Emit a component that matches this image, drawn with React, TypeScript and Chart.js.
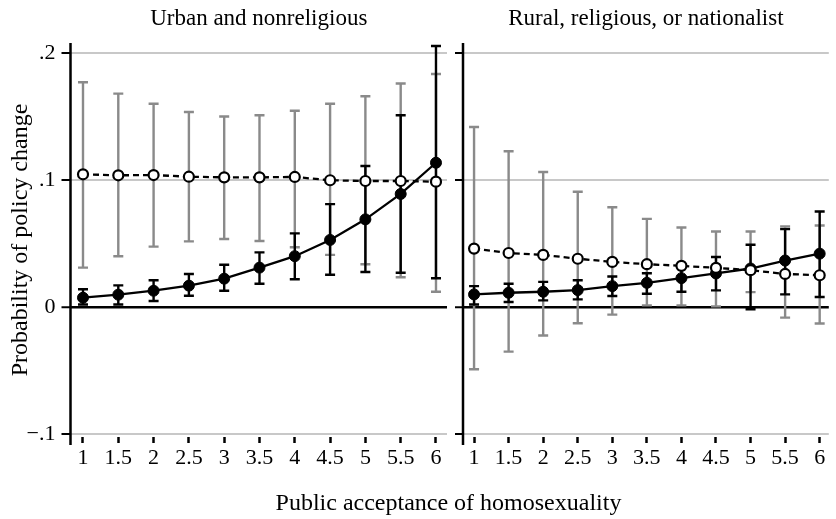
import React, { useEffect, useRef } from "react";
import { Chart, registerables } from "chart.js";

Chart.register(...registerables);

// ---------- data ----------
const xValues = [1, 1.5, 2, 2.5, 3, 3.5, 4, 4.5, 5, 5.5, 6];
const xTickLabels = ["1", "1.5", "2", "2.5", "3", "3.5", "4", "4.5", "5", "5.5", "6"];
const yTickValues = [-0.1, 0, 0.1, 0.2];
const yTickLabels = ["\u2212.1", "0", ".1", ".2"];

const panelTitles = ["Urban and nonreligious", "Rural, religious, or nationalist"];
const yAxisTitle = "Probability of policy change";
const xAxisTitle = "Public acceptance of homosexuality";

// Urban and nonreligious
const urbanOpen = [0.1045, 0.1037, 0.1039, 0.1026, 0.1021, 0.1021, 0.1024, 0.0998, 0.0992, 0.0992, 0.0987];
const urbanOpenLo = [0.031, 0.040, 0.0475, 0.0517, 0.0535, 0.052, 0.047, 0.041, 0.0336, 0.0234, 0.012];
const urbanOpenHi = [0.177, 0.168, 0.160, 0.1535, 0.150, 0.151, 0.1546, 0.160, 0.166, 0.176, 0.1835];
const urbanSolid = [0.0073, 0.0097, 0.0128, 0.0168, 0.0223, 0.031, 0.040, 0.0528, 0.069, 0.089, 0.1136];
const urbanSolidLo = [0.002, 0.002, 0.0047, 0.0089, 0.0128, 0.0183, 0.0218, 0.0254, 0.0276, 0.027, 0.0226];
const urbanSolidHi = [0.014, 0.017, 0.021, 0.026, 0.0333, 0.043, 0.058, 0.081, 0.111, 0.151, 0.2055];

// Rural, religious, or nationalist
const ruralOpen = [0.046, 0.0425, 0.041, 0.038, 0.0355, 0.0337, 0.0324, 0.0308, 0.029, 0.026, 0.025];
const ruralOpenLo = [-0.049, -0.0352, -0.0225, -0.0128, -0.006, 0.0013, 0.0013, 0.0005, 0.0117, -0.0084, -0.013];
const ruralOpenHi = [0.1417, 0.1227, 0.1063, 0.0908, 0.0786, 0.0694, 0.0626, 0.0595, 0.0595, 0.0634, 0.0642];
const ruralSolid = [0.0099, 0.0112, 0.012, 0.0133, 0.0164, 0.019, 0.0227, 0.0264, 0.0303, 0.0366, 0.042];
const ruralSolidLo = [0.002, 0.0039, 0.0052, 0.006, 0.0086, 0.0104, 0.012, 0.0131, -0.0018, 0.0099, 0.0078];
const ruralSolidHi = [0.0164, 0.0183, 0.0198, 0.0211, 0.024, 0.0266, 0.0316, 0.0394, 0.049, 0.0613, 0.0752];

// ---------- styling ----------
const FONT = "'Liberation Serif', 'Times New Roman', serif";
const W = 836;
const H = 519;

const errorBarPlugin = {
  id: "errorBars",
  beforeDatasetsDraw(chart: any) {
    const { ctx, chartArea } = chart;
    const xs = chart.scales.x;
    const ys = chart.scales.y;
    // axis line (extends a little below the plot region)
    ctx.save();
    ctx.strokeStyle = "#000";
    ctx.lineWidth = 2.5;
    ctx.beginPath();
    ctx.moveTo(chartArea.left, chartArea.top);
    ctx.lineTo(chartArea.left, chartArea.bottom + 8);
    ctx.stroke();
    ctx.restore();

    chart.data.datasets.forEach((ds: any) => {
      ctx.save();
      ctx.strokeStyle = ds.errColor;
      ctx.lineWidth = 2.4;
      ds.data.forEach((p: any, i: number) => {
        const x = xs.getPixelForValue(p.x);
        const yl = ys.getPixelForValue(ds.errLo[i]);
        const yh = ys.getPixelForValue(ds.errHi[i]);
        ctx.beginPath();
        ctx.moveTo(x, yl);
        ctx.lineTo(x, yh);
        ctx.moveTo(x - 5, yl);
        ctx.lineTo(x + 5, yl);
        ctx.moveTo(x - 5, yh);
        ctx.lineTo(x + 5, yh);
        ctx.stroke();
      });
      ctx.restore();
    });
  },
};

function makeConfig(
  title: string,
  open: number[], openLo: number[], openHi: number[],
  solid: number[], solidLo: number[], solidHi: number[],
  isLeft: boolean
): any {
  return {
    type: "line",
    data: {
      datasets: [
        {
          data: xValues.map((x, i) => ({ x, y: open[i] })),
          errLo: openLo,
          errHi: openHi,
          errColor: "#8a8a8a",
          borderColor: "#000",
          borderWidth: 2.3,
          borderDash: [6, 4],
          pointRadius: 5,
          pointBorderWidth: 2.2,
          pointBackgroundColor: "#fff",
          pointBorderColor: "#000",
          tension: 0,
        },
        {
          data: xValues.map((x, i) => ({ x, y: solid[i] })),
          errLo: solidLo,
          errHi: solidHi,
          errColor: "#000",
          borderColor: "#000",
          borderWidth: 2.3,
          pointRadius: 5.5,
          pointBorderWidth: 1,
          pointBackgroundColor: "#000",
          pointBorderColor: "#000",
          tension: 0,
        },
      ],
    },
    options: {
      animation: false,
      responsive: false,
      devicePixelRatio: 1,
      layout: {
        padding: isLeft ? { left: 0, right: W - 447, top: 0, bottom: 0 } : { left: 455, right: 0, top: 0, bottom: 0 },
      },
      plugins: {
        legend: { display: false },
        tooltip: { enabled: false },
        title: {
          display: true,
          text: title,
          fullSize: false,
          color: "#000",
          font: { family: FONT, size: 23, weight: "normal" },
          padding: { top: 5, bottom: 10.4 },
        },
      },
      scales: {
        x: {
          type: "linear",
          min: isLeft ? 0.823 : 0.84,
          max: isLeft ? 6.156 : 6.132,
          afterBuildTicks: (s: any) => {
            s.ticks = xValues.map((v) => ({ value: v }));
          },
          afterFit: (s: any) => {
            s.height = H - 437;
          },
          border: { display: false },
          grid: {
            drawOnChartArea: false,
            drawTicks: true,
            tickLength: 6,
            tickColor: "#000",
            tickWidth: 2.5,
          },
          ticks: {
            color: "#000",
            font: { family: FONT, size: 22 },
            padding: 2,
            maxRotation: 0,
            autoSkip: false,
            callback: (_v: any, i: number) => xTickLabels[i],
          },
        },
        y: {
          type: "linear",
          min: -0.1024,
          max: 0.2079,
          afterBuildTicks: (s: any) => {
            s.ticks = yTickValues.map((v) => ({ value: v }));
          },
          afterFit: (s: any) => {
            s.width = isLeft ? 70.5 : 8;
          },
          border: { display: false },
          grid: {
            color: (c: any) => (c.tick && c.tick.value === 0 ? "#000" : "#c8c8c8"),
            lineWidth: (c: any) => (c.tick && c.tick.value === 0 ? 2.5 : 2),
            drawTicks: true,
            tickLength: isLeft ? 9 : 8,
            tickColor: "#000",
            tickWidth: 2,
          },
          title: isLeft
            ? {
                display: true,
                text: yAxisTitle,
                color: "#000",
                font: { family: FONT, size: 24, weight: "normal" },
                padding: { top: 6, bottom: 0 },
              }
            : { display: false },
          ticks: {
            display: isLeft,
            color: "#000",
            font: { family: FONT, size: 22 },
            padding: 6,
            callback: (v: any) => {
              const idx = yTickValues.findIndex((t) => Math.abs(t - v) < 1e-9);
              return idx >= 0 ? yTickLabels[idx] : "";
            },
          },
        },
      },
    },
    plugins: [errorBarPlugin],
  };
}

export default function App() {
  const leftRef = useRef<HTMLCanvasElement | null>(null);
  const rightRef = useRef<HTMLCanvasElement | null>(null);

  useEffect(() => {
    if (!leftRef.current || !rightRef.current) return;
    const left = new Chart(
      leftRef.current,
      makeConfig(panelTitles[0], urbanOpen, urbanOpenLo, urbanOpenHi, urbanSolid, urbanSolidLo, urbanSolidHi, true)
    );
    const right = new Chart(
      rightRef.current,
      makeConfig(panelTitles[1], ruralOpen, ruralOpenLo, ruralOpenHi, ruralSolid, ruralSolidLo, ruralSolidHi, false)
    );
    return () => {
      left.destroy();
      right.destroy();
    };
  }, []);

  const canvasStyle: React.CSSProperties = { position: "absolute", left: 0, top: 0, width: W, height: H };

  return (
    <div style={{ position: "fixed", left: 0, top: 0, width: W, height: H, background: "#fff" }}>
      <canvas ref={leftRef} width={W} height={H} style={canvasStyle} />
      <canvas ref={rightRef} width={W} height={H} style={canvasStyle} />
      <div
        style={{
          position: "absolute",
          left: 0,
          top: 488,
          width: 897,
          textAlign: "center",
          fontFamily: FONT,
          fontSize: 24,
          lineHeight: "28px",
          color: "#000",
          whiteSpace: "nowrap",
        }}
      >
        {xAxisTitle}
      </div>
    </div>
  );
}
